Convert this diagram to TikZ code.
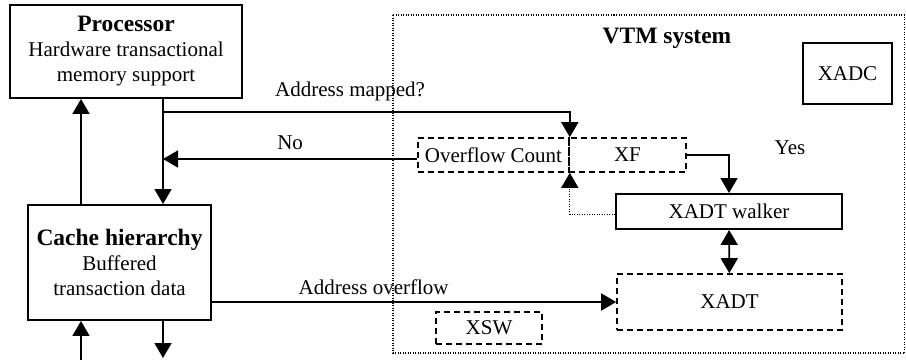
\documentclass[tikz,border=0pt]{standalone}
\usepackage{fontspec}
\setmainfont{Liberation Serif}
\usetikzlibrary{arrows.meta}

\tikzset{
  block/.style={draw, line width=1.9pt, align=center, inner sep=0pt},
  dashblock/.style={draw, line width=1.6pt, dash pattern=on 6pt off 4pt, align=center, inner sep=0pt},
  dotline/.style={line width=1.1pt, dash pattern=on 1pt off 1.5pt},
  title/.style={font=\fontsize{23.5}{25}\selectfont\bfseries},
}

\begin{document}
\begin{tikzpicture}[x=1pt, y=-1pt, >={Triangle[length=15pt,width=17pt]},
    line width=1.6pt, font=\fontsize{21}{25}\selectfont]

	\useasboundingbox (0,0) rectangle (906,360);

	% VTM area
	\draw [dotline] (393,15) rectangle (904.5,353);
	\node [title] (vtm) at (667,38) {VTM system};

	% main blocks
	\node [block, minimum width=232pt, minimum height=93pt] (proc) at (126,51.5)
	  {{\fontsize{23.5}{25}\selectfont\bfseries Processor}\\Hardware transactional\\memory support};
	\node [block, minimum width=183pt, minimum height=115pt] (cache) at (119.5,262.5)
	  {{\fontsize{23.5}{25}\selectfont\bfseries Cache hierarchy}\\Buffered\\transaction data};
	\node [block, minimum width=89pt, minimum height=61pt] (xadc) at (847.5,73.5) {XADC};
	\node [block, minimum width=226pt, minimum height=35pt] (walker) at (729,211.5) {XADT walker};

	% dashed blocks
	\node [dashblock, minimum width=151pt, minimum height=34pt] (ovf) at (493.5,155) {Overflow Count};
	\node [dashblock, minimum width=117pt, minimum height=34pt] (xf) at (627.5,155) {XF};
	\node [dashblock, minimum width=225pt, minimum height=56pt] (xadt) at (729.5,302) {XADT};
	\node [dashblock, minimum width=106pt, minimum height=32pt] (xsw) at (489,328) {XSW};

	% helper points
	\coordinate (up) at (81,0);
	\coordinate (down) at (163,0);
	\coordinate (split) at (163,112);
	\coordinate (inbot) at (81,360);
	\coordinate (outbot) at (163,358);

	% processor <-> cache
	\draw [->] (cache.north -| up) -- (proc.south -| up);
	\draw [->] (proc.south -| down) -- (cache.north -| down);
	\draw [->] (inbot) -- (cache.south -| inbot);
	\draw [->] (cache.south -| outbot) -- (outbot);

	% lookup
	\draw [->] (split) -- (split -| ovf.north east)
	  node [above=7pt, pos=0.46] {Address mapped?} -- (ovf.north east);
	\draw [->] ([yshift=-4pt]ovf.west) -- ([yshift=-4pt]ovf.west -| down)
	  node [above=5pt, midway] {No};
	\draw [->] (xf.east) -| (walker.north);
	\node (yes) at (790,148) {Yes};
	\draw [->, dotline] ([yshift=-3pt]walker.west) -| (ovf.south east);
	\draw [<->] (walker) -- (xadt);

	% overflow
	\draw [->] (cache.east |- xadt.west) -- (xadt.west)
	  node [above=3pt, pos=0.4] {Address overflow};

\end{tikzpicture}
\end{document}
